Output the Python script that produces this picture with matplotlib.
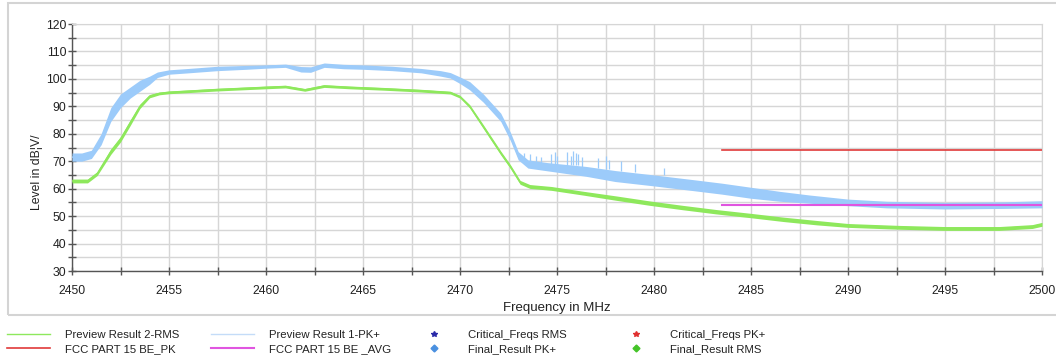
import matplotlib
matplotlib.use('Agg')
import matplotlib.pyplot as plt
from matplotlib.lines import Line2D
from matplotlib.patches import Rectangle

plt.rcParams['font.family'] = ['Liberation Sans', 'DejaVu Sans']

# Preview Result 1-PK+ (light blue): anchor freq, centre level, noise half-width
pk_freq = [2450.0, 2450.5, 2451.0, 2451.5, 2452.0, 2452.5, 2453.0, 2453.5, 2454.0, 2454.4,
           2455.0, 2456.0, 2457.5, 2459.0, 2460.0, 2461.0, 2461.8, 2462.3, 2463.0, 2464.0,
           2465.0, 2466.5, 2468.0, 2469.0, 2469.5, 2470.0, 2470.5, 2471.2, 2472.1, 2472.6,
           2473.0, 2473.5, 2474.5, 2476.5, 2478.0, 2480.0, 2482.0, 2483.5, 2485.0, 2486.5,
           2488.0, 2490.0, 2492.0, 2495.0, 2498.0, 2500.0]
pk_level = [71.5, 71.5, 72.5, 78.0, 87.0, 92.0, 95.0, 97.5, 99.5, 101.5,
            102.5, 103.0, 103.8, 104.2, 104.5, 104.8, 103.5, 103.4, 105.0, 104.5,
            104.3, 103.8, 103.0, 102.0, 101.3, 99.5, 97.5, 93.0, 86.0, 79.0,
            72.0, 69.0, 68.0, 66.3, 64.6, 63.0, 61.3, 60.0, 58.5, 57.2,
            56.2, 55.0, 54.2, 53.8, 54.0, 54.3]
pk_noise = [1.5, 1.5, 1.5, 2.0, 2.5, 2.5, 2.0, 2.0, 1.5, 1.0,
            0.8, 0.8, 0.8, 0.7, 0.6, 0.6, 1.0, 1.0, 0.8, 0.8,
            0.8, 0.8, 0.8, 1.0, 1.0, 1.2, 1.5, 1.5, 1.5, 1.5,
            1.5, 1.5, 1.5, 1.8, 2.0, 2.0, 2.0, 2.0, 2.0, 1.8,
            1.5, 1.2, 1.2, 1.2, 1.2, 1.3]

# isolated spikes on the PK+ trace
spike_freq = [2473.3, 2473.6, 2473.9, 2474.2, 2474.7, 2474.9, 2475.0, 2475.5, 2475.7, 2475.85,
              2476.0, 2476.1, 2476.3, 2477.1, 2477.5, 2477.7, 2478.3, 2479.0, 2480.5]
spike_top = [73.0, 72.5, 72.0, 71.5, 72.5, 73.2, 72.0, 73.5, 72.0, 73.8,
             73.0, 72.5, 71.5, 71.0, 72.0, 70.5, 70.0, 69.0, 67.5]
spike_base = [69.5, 69.5, 69.0, 69.0, 69.0, 69.0, 69.0, 68.5, 68.5, 68.5,
              68.5, 68.5, 68.0, 67.5, 67.0, 67.0, 66.5, 66.0, 65.0]

# Preview Result 2-RMS (light green)
rms_freq = [2450.0, 2450.8, 2451.3, 2452.0, 2452.5, 2453.0, 2453.5, 2454.0, 2454.5, 2455.0,
            2457.5, 2460.0, 2461.0, 2462.0, 2463.0, 2464.3, 2466.0, 2468.0, 2469.5, 2470.0,
            2470.5, 2471.2, 2472.1, 2472.6, 2473.1, 2473.6, 2474.7, 2476.4, 2478.1, 2479.8,
            2481.5, 2483.2, 2485.0, 2486.7, 2488.4, 2490.0, 2492.7, 2495.0, 2497.8, 2499.5,
            2500.0]
rms_level = [62.8, 62.8, 65.5, 73.5, 78.0, 84.0, 90.0, 93.7, 94.7, 95.1,
             96.1, 96.9, 97.2, 96.0, 97.4, 96.9, 96.4, 95.7, 95.0, 93.5,
             90.0, 82.6, 73.0, 68.0, 62.3, 60.8, 60.1, 58.3, 56.5, 54.7,
             53.1, 51.6, 50.2, 48.8, 47.6, 46.6, 45.9, 45.5, 45.5, 46.2,
             47.0]
rms_noise = [0.7, 0.7, 0.7, 1.0, 1.0, 1.0, 0.8, 0.6, 0.5, 0.5,
             0.5, 0.5, 0.5, 0.5, 0.5, 0.5, 0.5, 0.5, 0.5, 0.5,
             0.6, 0.7, 0.7, 0.7, 0.7, 0.7, 0.7, 0.7, 0.8, 0.8,
             0.8, 0.8, 0.8, 0.8, 0.8, 0.7, 0.7, 0.7, 0.7, 0.7,
             0.7]

# limit lines
limit_freq = [2483.5, 2500.0]
limit_pk = [74.0, 74.0]
limit_avg = [54.0, 54.0]

BLUE = '#9ccbfa'
GREEN = '#8ee85c'
RED = '#e03a3a'
MAGENTA = '#e055e0'
GRID = '#d6d6d6'

fig = plt.figure(figsize=(10.56, 3.61), dpi=100)
ax = fig.add_axes([72 / 1056, 1 - 271 / 361, 970 / 1056, 247 / 361])

# outer frame
fig.patches.append(Rectangle((8 / 1056, 1 - 315 / 361), 1.0, 312 / 361, transform=fig.transFigure,
                             fill=False, edgecolor='#d4d4d4', linewidth=1.5))

pk_lo = [c - h for c, h in zip(pk_level, pk_noise)]
pk_hi = [c + h for c, h in zip(pk_level, pk_noise)]
rms_lo = [c - h for c, h in zip(rms_level, rms_noise)]
rms_hi = [c + h for c, h in zip(rms_level, rms_noise)]

ax.fill_between(pk_freq, pk_lo, pk_hi, color=BLUE, linewidth=0, zorder=3)
ax.plot(pk_freq, pk_level, color=BLUE, linewidth=1, zorder=3)
ax.vlines(spike_freq, spike_base, spike_top, color=BLUE, linewidth=0.9, zorder=3)
ax.fill_between(rms_freq, rms_lo, rms_hi, color=GREEN, linewidth=0, zorder=4)
ax.plot(rms_freq, rms_level, color=GREEN, linewidth=1, zorder=4)
ax.plot(limit_freq, limit_pk, color=RED, linewidth=1.2, zorder=5)
ax.plot(limit_freq, limit_avg, color=MAGENTA, linewidth=1.5, zorder=5)

ax.set_xlim(2450, 2500)
ax.set_ylim(30, 120)
ax.set_xticks(range(2450, 2501, 5))
ax.set_xticks([2450 + 2.5 * i for i in range(21)], minor=True)
ax.set_yticks(range(30, 121, 10))
ax.set_yticks(range(30, 121, 5), minor=True)
ax.grid(True, which='both', color=GRID, linewidth=1, zorder=0)
ax.set_axisbelow(True)

for side in ['top', 'right']:
    ax.spines[side].set_color(GRID)
for side in ['left', 'bottom']:
    ax.spines[side].set_color('#555555')
    ax.spines[side].set_linewidth(1.0)
ax.tick_params(which='both', direction='inout', length=6, width=1, color='#555555')
ax.tick_params(axis='both', labelsize=8.8, colors='#555555', labelcolor='#222222')
ax.tick_params(axis='y', pad=1)
ax.tick_params(axis='x', pad=7)

ax.set_xlabel('Frequency in MHz', fontsize=9.5, color='#222222')
ax.xaxis.set_label_coords(0.5, -0.125)
ax.set_ylabel('Level in dB\u00a6V/', fontsize=8.8, color='#222222')
ax.yaxis.set_label_coords(-0.030, 0.40)

# legend: four columns placed individually
fs = 8.2
col_specs = [
    (7, [Line2D([], [], color=GREEN, linewidth=1), Line2D([], [], color=RED, linewidth=1.2)],
     ['Preview Result 2-RMS', 'FCC PART 15 BE_PK'], 3.8, 1.25),
    (211, [Line2D([], [], color='#c4dcf8', linewidth=1), Line2D([], [], color=MAGENTA, linewidth=1.5)],
     ['Preview Result 1-PK+', 'FCC PART 15 BE _AVG'], 3.8, 1.25),
    (428, [Line2D([], [], color='#2a2aa8', marker='*', linestyle='none', markersize=4),
           Line2D([], [], color='#4a90e0', marker='D', linestyle='none', markersize=3.5)],
     ['Critical_Freqs RMS', 'Final_Result PK+'], 1.0, 2.55),
    (630, [Line2D([], [], color='#e03030', marker='*', linestyle='none', markersize=4),
           Line2D([], [], color='#44c428', marker='D', linestyle='none', markersize=3.5)],
     ['Critical_Freqs PK+', 'Final_Result RMS'], 1.0, 2.55),
]
for x0, handles, labels, hl, hp in col_specs:
    fig.legend(handles, labels, loc='upper left', bbox_to_anchor=(x0 / 1056, 1 - 330 / 361),
               frameon=False, fontsize=fs, handlelength=hl, handletextpad=hp,
               borderpad=0, borderaxespad=0, labelspacing=0.32, labelcolor='#222222')

fig.savefig('out.png', dpi=100)
